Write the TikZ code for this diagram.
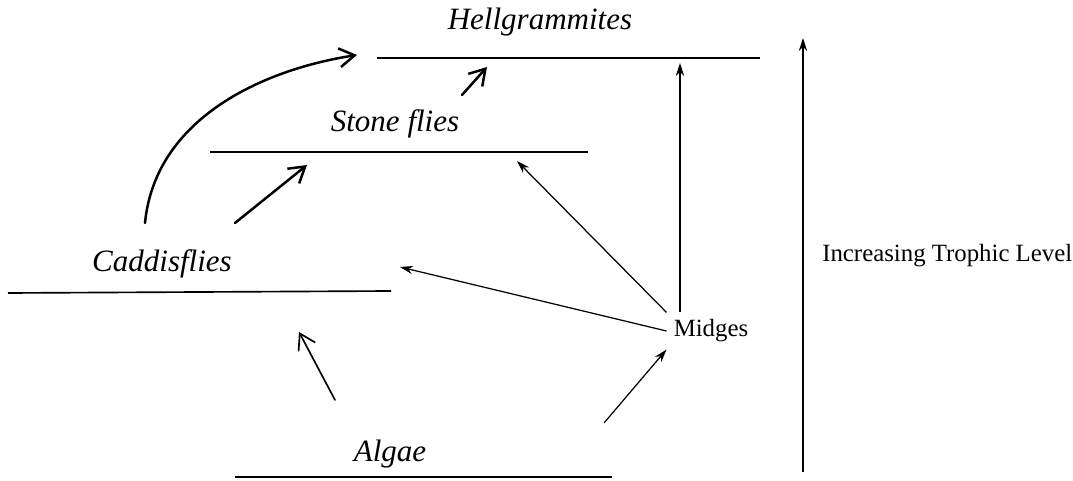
\documentclass[tikz,border=0pt]{standalone}
\usepackage{fontspec}
\setmainfont{Liberation Serif}
\usetikzlibrary{arrows.meta}
\tikzset{
  handarr/.style  = {-{Straight Barb[length=2.6mm,width=3.2mm]},very thick,line cap=round},
  typedarr/.style = {-{Stealth[length=2.2mm,width=1.4mm]},semithick},
  levelline/.style = {thick},
  handlabel/.style = {font=\fontsize{15}{17}\selectfont\itshape},
  typedlabel/.style = {font=\fontsize{12}{14}\selectfont}
}

\begin{document}
\begin{tikzpicture}[x=0.017cm,y=-0.017cm]
  \useasboundingbox (0,0) rectangle (1073,481);
  % trophic levels
  \draw[levelline] (377,58) -- (760,58);
  \draw[levelline] (210,152) -- (588,152);
  \draw[levelline] (8,293) -- (391,291);
  \draw[levelline] (235,477) -- (612,477);
  \node[handlabel] (hell)   at (540,22)  {Hellgrammites};
  \node[handlabel] (stone)  at (395,124) {Stone flies};
  \node[handlabel] (caddis) at (162,264) {Caddisflies};
  \node[handlabel] (algae)  at (390,454) {Algae};
  \node[typedlabel] (midges) at (711,331) {Midges};
  % arrow ends
  \coordinate (caddisTop) at (145,223);
  \coordinate (caddisUp)  at (235,223);
  \coordinate (stoneTop)  at (462,95);
  \coordinate (algaeUp)   at (335,400);
  \coordinate (algaeR)    at (604,423);
  \coordinate (hellIn)    at (357,55);
  \coordinate (hellIn2)   at (487,67);
  \coordinate (hellIn3)   at (680,63);
  \coordinate (stoneIn)   at (307,165);
  \coordinate (stoneIn2)  at (517,161);
  \coordinate (caddisIn)  at (299,332);
  \coordinate (caddisIn2) at (400,267);
  % hand drawn arrows
  \draw[handarr] (caddisTop) .. controls (155,120) and (260,70) .. (hellIn);
  \draw[handarr] (stoneTop) -- (hellIn2);
  \draw[handarr] (caddisUp) -- (stoneIn);
  \draw[handarr,thick] (algaeUp) -- (caddisIn);
  % midges
  \draw[typedarr] (midges.north west -| hellIn3) -- (hellIn3);
  \draw[typedarr] (midges.north west) -- (stoneIn2);
  \draw[typedarr] (midges.west) -- (caddisIn2);
  \draw[typedarr] (algaeR) -- (midges.south west);
  % trophic axis
  \coordinate (axisBot) at (803,472);
  \coordinate (axisTop) at (803,38);
  \draw[typedarr] (axisBot) -- (axisTop);
  \node[typedlabel,anchor=west] (trophic) at (815,256) {Increasing Trophic Level};
\end{tikzpicture}
\end{document}
